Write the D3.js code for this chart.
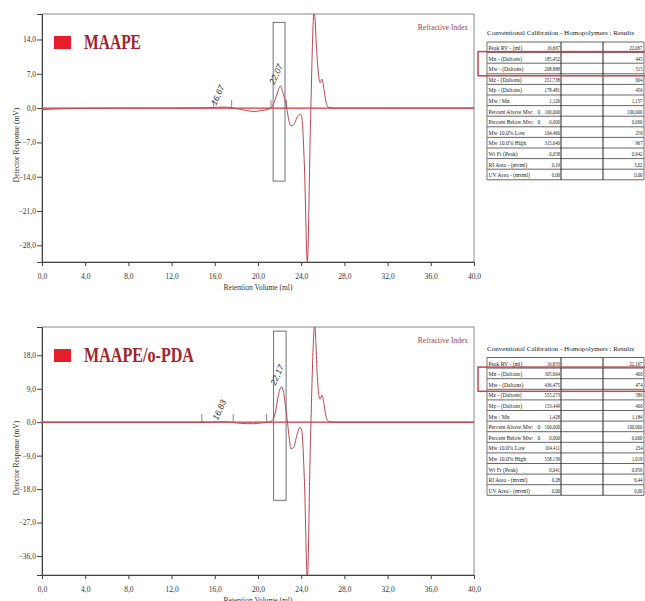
<!DOCTYPE html>
<html>
<head>
<meta charset="utf-8">
<script src="https://cdn.jsdelivr.net/npm/d3@7"></script>
<style>
  body { margin: 0; background: #fff; }
  svg { display: block; }
  text { font-family: "Liberation Serif", "DejaVu Serif", serif; }
</style>
</head>
<body>
<div id="chart"></div>
<script>
// sample names
const sampleNames = ["MAAPE", "MAAPE/o-PDA"];

// retention volume (ml) / detector response (mV)
const rvA = [0, 1, 3, 8, 12, 15.9, 16.67, 17.5, 18.2, 19, 19.6, 20.3, 21.0, 21.3, 21.6, 21.9, 22.07, 22.3, 22.55, 22.7, 22.85, 23.05, 23.3, 23.6, 23.9, 24.05, 24.3, 24.57, 24.85, 25.2, 25.45, 25.62, 25.75, 25.92, 26.1, 26.3, 26.5, 27, 32, 40];
const respA = [-0.3, -0.2, -0.1, 0, 0, 0.1, 0.2, 0.1, -0.2, -0.5, -0.7, -0.5, -0.2, 0.3, 1.8, 3.8, 4.5, 3.2, 1.2, -0.5, -2.5, -3.6, -3.4, -2.0, -1.2, -1.8, -12, -31.5, -4, 20, 11, 6.5, 5.2, 5.9, 4, 1.2, 0.2, 0, 0, 0];

const rvB = [0, 5, 10, 15, 17, 18, 19, 19.6, 20.3, 21.0, 21.3, 21.6, 21.9, 22.17, 22.4, 22.6, 22.75, 22.9, 23.05, 23.3, 23.6, 23.9, 24.05, 24.3, 24.57, 24.85, 25.25, 25.5, 25.62, 25.75, 25.92, 26.1, 26.3, 26.5, 27, 32, 40];
const respB = [0, 0, 0, 0, 0.1, -0.2, -0.4, -0.4, -0.2, 0, 0.4, 2.5, 7.5, 9.5, 7.5, 3, -0.5, -4.5, -7.1, -6.8, -3.5, -1.4, -2.2, -16, -42, -6, 26, 12, 7.5, 6.2, 7.3, 5, 1.5, 0.3, 0, 0, 0];

// peak marks
const peaksA = [16.67, 22.07];
const peakYA = [0.2, 4.5];
const peakTextA = ["16,67", "22,07"];
const peaksB = [16.83, 22.17];
const peakYB = [0.1, 9.5];
const peakTextB = ["16,83", "22,17"];

// baseline / integration ticks
const marksA = [15.9, 17.56, 21.2, 22.65];
const marksB = [14.8, 17.7, 20.8];

// integration window
const winXA = [21.4, 22.5], winYA = [-14.9, 17.5];
const winXB = [21.45, 22.6], winYB = [-21, 24.5];

// axes
const xTicks = [0, 4, 8, 12, 16, 20, 24, 28, 32, 36, 40];
const yTicksA = [-28, -21, -14, -7, 0, 7, 14];
const yTicksB = [-36, -27, -18, -9, 0, 9, 18];
const yDomA = [-31.4, 19.2];
const yDomB = [-41.1, 25.6];

// results tables
const tableTitle = "Conventional Calibration - Homopolymers : Results";
const rowLabels = ["Peak RV - (ml)", "Mn - (Daltons)", "Mw - (Daltons)", "Mz - (Daltons)", "Mp - (Daltons)", "Mw / Mn", "Percent Above Mw:", "Percent Below Mw:", "Mw 10.0% Low", "Mw 10.0% High", "Wt Fr  (Peak)", "RI Area - (mvml)", "UV Area - (mvml)"];
const rowExtra = ["", "", "", "", "", "", "0", "0", "", "", "", "", ""];
const peak1A = ["16,667", "185.452", "208.888", "251.738", "178.481", "1,126", "100,000", "0,000", "104.460", "315.640", "0,058", "0,19", "0,00"];
const peak2A = ["22,067", "445", "515", "604", "456", "1,157", "100,000", "0,000", "256", "967", "0,942", "3,02", "0,00"];
const peak1B = ["16,833", "305.664", "436.475", "555.273", "153.449", "1,428", "100,000", "0,000", "104.411", "558.139", "0,041", "0,28", "0,00"];
const peak2B = ["22,167", "400", "474", "586", "400", "1,184", "100,000", "0,000", "234", "1.019", "0,959", "6,44", "0,00"];

const W = 645, H = 601;
const svg = d3.select("#chart").append("svg").attr("width", W).attr("height", H);

const loc = d3.formatLocale({ decimal: ",", thousands: ".", grouping: [3], currency: ["", ""] });
const f1 = loc.format(".1f");

function drawPanel(p, idx) {
  const x = d3.scaleLinear().domain([0, 40]).range([42, 474]);
  const y = d3.scaleLinear().domain(p.yDom).range([p.bottom, p.top]);
  const g = svg.append("g");

  // frame
  g.append("rect").attr("x", 42).attr("y", p.top).attr("width", 432).attr("height", p.bottom - p.top)
    .attr("fill", "none").attr("stroke", "#8a8a8a").attr("stroke-width", 1);

  const xAxis = g.append("g").attr("transform", `translate(0,${p.bottom})`)
    .call(d3.axisBottom(x).tickValues(xTicks).tickFormat(f1).tickSize(4).tickPadding(8));
  const yAxis = g.append("g").attr("transform", "translate(42,0)")
    .call(d3.axisLeft(y).tickValues(p.yTicks).tickFormat(f1).tickSize(5).tickPadding(1));
  [xAxis, yAxis].forEach(a => {
    a.select(".domain").attr("stroke", "#444");
    a.selectAll(".tick line").attr("stroke", "#444");
    a.selectAll(".tick text").attr("fill", "#333").style("font-size", "7.5px")
      .style("font-family", "'Liberation Serif', serif");
  });

  g.append("text").attr("x", 258).attr("y", p.bottom + 28).attr("text-anchor", "middle")
    .attr("fill", "#333").style("font-size", "7.5px").text("Retention Volume (ml)");
  g.append("text").attr("transform", `translate(19,${(p.top + p.bottom) / 2 + 7}) rotate(-90)`)
    .attr("text-anchor", "middle").attr("fill", "#333").style("font-size", "7.5px")
    .text("Detector Response (mV)");

  // legend + detector
  g.append("rect").attr("x", 54).attr("y", p.top + 22).attr("width", 17).attr("height", 13).attr("fill", "#e3202a");
  g.append("text").attr("x", 84).attr("y", p.top + 35).attr("fill", "#a3232b")
    .attr("textLength", p.nameLen).attr("lengthAdjust", "spacingAndGlyphs")
    .style("font-size", "21px").style("font-weight", "bold").text(p.name);
  g.append("text").attr("x", 468).attr("y", p.top + 16).attr("text-anchor", "end").attr("fill", "#a3404a")
    .style("font-size", "7.5px").text("Refractive Index");

  const clipId = "clip" + idx;
  svg.append("clipPath").attr("id", clipId).append("rect")
    .attr("x", 42).attr("y", p.top).attr("width", 432).attr("height", p.bottom - p.top);
  const plot = g.append("g").attr("clip-path", `url(#${clipId})`);

  // integration window
  plot.append("rect").attr("x", x(p.winX[0])).attr("y", y(p.winY[1]))
    .attr("width", x(p.winX[1]) - x(p.winX[0])).attr("height", y(p.winY[0]) - y(p.winY[1]))
    .attr("fill", "none").attr("stroke", "#4a4f66").attr("stroke-width", 0.8);

  // baseline
  plot.append("line").attr("x1", x(0)).attr("x2", x(40)).attr("y1", y(0)).attr("y2", y(0))
    .attr("stroke", "#d8303a").attr("stroke-width", 1.3);

  // trace
  const pts = p.rv.map((v, i) => [v, p.resp[i]]);
  const line = d3.line().x(d => x(d[0])).y(d => y(d[1])).curve(d3.curveMonotoneX);
  plot.append("path").datum(pts).attr("d", line)
    .attr("fill", "none").attr("stroke", "#b8474f").attr("stroke-width", 1);

  // slice marks
  plot.selectAll(".mk").data(p.marks).enter().append("line")
    .attr("x1", d => x(d)).attr("x2", d => x(d))
    .attr("y1", y(0)).attr("y2", y(0) - 8)
    .attr("stroke", "#8c5a5a").attr("stroke-width", 0.8);

  // peak labels
  g.selectAll(".pk").data(p.peaks).enter().append("text")
    .attr("transform", (d, i) => `translate(${x(d) - 6},${y(p.peakY[i]) - 1}) rotate(-66)`)
    .attr("fill", "#333").style("font-size", "8.5px").style("font-style", "italic")
    .style("font-family", "'Liberation Sans', sans-serif")
    .text((d, i) => p.peakText[i]);

  // results table
  const tx = [487, 561, 603, 644];
  const rowH = 10.6;
  const t = svg.append("g");
  t.append("text").attr("x", tx[0]).attr("y", p.tableTop - 7).attr("fill", "#222")
    .attr("textLength", 147).attr("lengthAdjust", "spacingAndGlyphs")
    .style("font-size", "7px").text(tableTitle);
  const n = rowLabels.length;
  const ty = d3.range(n + 1).map(i => p.tableTop + i * rowH);
  t.selectAll(".hl").data(ty).enter().append("line")
    .attr("x1", tx[0]).attr("x2", tx[3]).attr("y1", d => d).attr("y2", d => d)
    .attr("stroke", "#555").attr("stroke-width", 0.9);
  t.selectAll(".vl").data(tx).enter().append("line")
    .attr("x1", d => d).attr("x2", d => d).attr("y1", ty[0]).attr("y2", ty[n])
    .attr("stroke", (d, i) => (i === 0 || i === 3) ? "#777" : "#222").attr("stroke-width", 1);
  const rows = t.selectAll(".row").data(rowLabels).enter().append("g")
    .attr("transform", (d, i) => `translate(0,${ty[i] + rowH - 2.6})`);
  // narrow cell text, as in the instrument report
  const cell = (sel, cx, anchor, sx, fn) => sel.append("text")
    .attr("transform", `translate(${cx},0) scale(${sx},1)`)
    .attr("text-anchor", anchor).attr("fill", "#222").style("font-size", "7px").text(fn);
  cell(rows, tx[0] + 1.5, "start", 0.8, d => d);
  cell(rows, 537.5, "start", 0.8, (d, i) => rowExtra[i]);
  cell(rows, tx[1] - 1, "end", 0.68, (d, i) => p.col1[i]);
  cell(rows, tx[3] - 1.5, "end", 0.68, (d, i) => p.col2[i]);

  // Mn / Mw highlight
  t.append("rect").attr("x", 478).attr("y", ty[1] - 1).attr("width", 175).attr("height", ty[3] - ty[1] + 3)
    .attr("fill", "none").attr("stroke", "#c8444a").attr("stroke-width", 1.5);
}

drawPanel({
  name: sampleNames[0], nameLen: 57, top: 14, bottom: 262, yDom: yDomA, yTicks: yTicksA,
  rv: rvA, resp: respA, peaks: peaksA, peakY: peakYA, peakText: peakTextA, marks: marksA,
  winX: winXA, winY: winYA, tableTop: 42, col1: peak1A, col2: peak2A
}, 0);
drawPanel({
  name: sampleNames[1], nameLen: 110, top: 327, bottom: 575, yDom: yDomB, yTicks: yTicksB,
  rv: rvB, resp: respB, peaks: peaksB, peakY: peakYB, peakText: peakTextB, marks: marksB,
  winX: winXB, winY: winYB, tableTop: 357.5, col1: peak1B, col2: peak2B
}, 1);
</script>
</body>
</html>
